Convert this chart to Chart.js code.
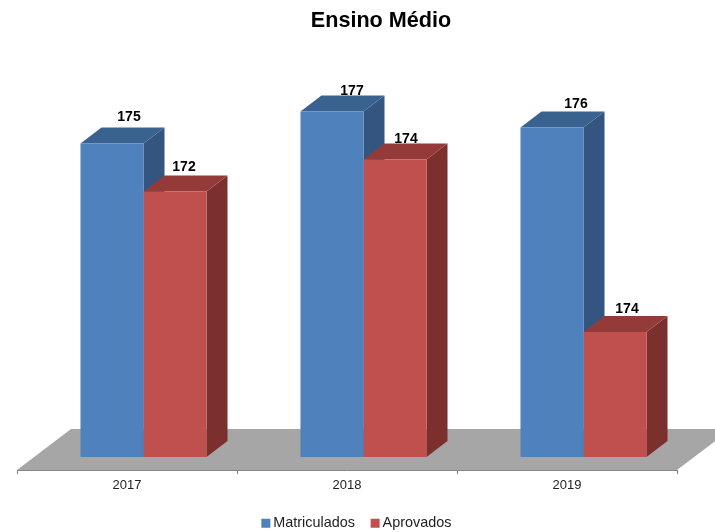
<!DOCTYPE html>
<html>
<head>
<meta charset="utf-8">
<style>html,body{margin:0;padding:0;background:#fff}canvas{display:block}</style>
<script src="https://cdn.jsdelivr.net/npm/chart.js@4"></script>
</head>
<body>
<canvas id="c" width="715" height="532"></canvas>
<script>
const categories = ["2017", "2018", "2019"];
const matriculados = [175, 177, 176];
const aprovados = [172, 174, 163.2];
const matriculadosLabels = ["175", "177", "176"];
const aprovadosLabels = ["172", "174", "174"];
const axisMin = 154.56;
const axisMax = 180.61;
const barBase = 155.375;

const FONT = '"Liberation Sans", Arial, sans-serif';
const shiftX = 16.5;
const barDepth = {x: 21, y: 16};
const floorDepth = {x: 54, y: 41};
const faces = [
  {top: '#3A6291', side: '#33557F'},
  {top: '#943B39', side: '#7B302E'}
];
const labelNudge = [
  [{x: 17, y: -26}, {x: 20, y: -20}, {x: 24, y: -23}],
  [{x: 9, y: -24}, {x: 11, y: -20}, {x: 12, y: -23}]
];
const labelTexts = [matriculadosLabels, aprovadosLabels];

function poly(ctx, pts, color) {
  ctx.fillStyle = color;
  ctx.beginPath();
  pts.forEach((p, i) => i ? ctx.lineTo(p[0], p[1]) : ctx.moveTo(p[0], p[1]));
  ctx.closePath();
  ctx.fill();
}

const scene3d = {
  id: 'scene3d',
  afterLayout(chart) {
    const t = chart.titleBlock;
    if (t) { t.left += 34; t.right += 34; }
    const l = chart.legend;
    if (l) {
      const h = l.bottom - l.top;
      l.top = 496; l.bottom = 496 + h;
      l.left += 11.5; l.right += 11.5;
    }
    const x = chart.scales.x;
    x.bottom = x.top + 30;
    x.height = 30;
  },
  beforeDatasetsDraw(chart) {
    const {ctx, chartArea: a, scales: {y}} = chart;
    const by = y.getPixelForValue(axisMin);
    poly(ctx, [[a.left, by], [a.left + floorDepth.x, by - floorDepth.y],
      [a.right + floorDepth.x, by - floorDepth.y], [a.right, by]], '#A6A6A6');
    chart.data.datasets.forEach((ds, i) => {
      const f = faces[i];
      chart.getDatasetMeta(i).data.forEach(b => {
        const half = b.width / 2;
        const l = b.x - half + shiftX, r = b.x + half + shiftX;
        const tp = b.y, bt = b.base;
        const dx = barDepth.x, dy = barDepth.y;
        poly(ctx, [[r, tp], [r + dx, tp - dy], [r + dx, bt - dy], [r, bt]], f.side);
        poly(ctx, [[l, tp], [l + dx, tp - dy], [r + dx, tp - dy], [r, tp]], f.top);
      });
    });
  },
  beforeDatasetDraw(chart) {
    chart.ctx.save();
    chart.ctx.translate(shiftX, 0);
  },
  afterDatasetDraw(chart) {
    chart.ctx.restore();
  },
  afterDatasetsDraw(chart) {
    const {ctx} = chart;
    ctx.save();
    ctx.font = 'bold 14px ' + FONT;
    ctx.fillStyle = '#000';
    ctx.textAlign = 'center';
    ctx.textBaseline = 'middle';
    chart.data.datasets.forEach((ds, i) => {
      chart.getDatasetMeta(i).data.forEach((b, j) => {
        const n = labelNudge[i][j];
        ctx.fillText(labelTexts[i][j], b.x + shiftX + n.x, b.y + n.y);
      });
    });
    ctx.restore();
  }
};

new Chart(document.getElementById('c'), {
  type: 'bar',
  data: {
    labels: categories,
    datasets: [
      {label: 'Matriculados', data: matriculados, base: barBase, backgroundColor: '#4F81BD', clip: false},
      {label: 'Aprovados', data: aprovados, base: barBase, backgroundColor: '#C0504D', clip: false}
    ]
  },
  options: {
    responsive: false,
    animation: false,
    layout: {padding: {left: 17, right: 38, top: 0, bottom: 0}},
    datasets: {bar: {categoryPercentage: 0.573, barPercentage: 1}},
    plugins: {
      title: {display: true, text: 'Ensino Médio', color: '#000',
        font: {family: FONT, size: 21.6, weight: 'bold'}, padding: {top: 8, bottom: 20}},
      legend: {position: 'bottom',
        labels: {usePointStyle: true, pointStyle: 'rect', boxWidth: 0.5, boxHeight: 9, padding: 20,
          color: '#222', font: {family: FONT, size: 14.4}}},
      tooltip: {enabled: false}
    },
    scales: {
      x: {
        afterFit(scale) { scale.height = 532 - 470 - scale.chart.legend.height; },
        grid: {display: true, drawOnChartArea: false, color: '#868686', tickLength: 4},
        border: {color: '#868686'},
        ticks: {color: '#222', font: {family: FONT, size: 13}, padding: 4, maxRotation: 0}
      },
      y: {display: false, min: axisMin, max: axisMax}
    }
  },
  plugins: [scene3d]
});
</script>
</body>
</html>
